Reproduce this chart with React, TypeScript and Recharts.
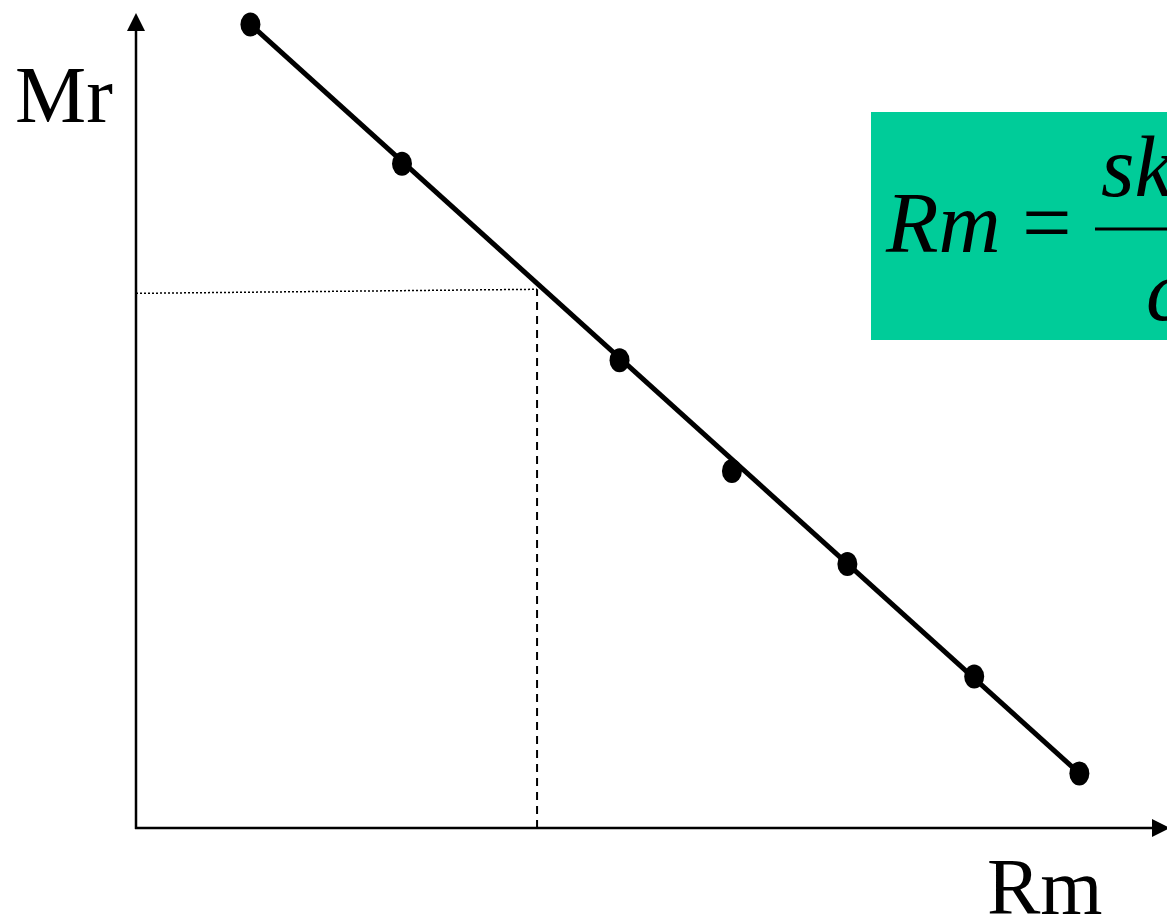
import { ComposedChart, Line, Scatter, XAxis, YAxis, ReferenceLine, Customized } from "recharts";

// measured points (Rm, Mr) in axis units 0..100
const rmValues = [11.1, 25.8, 46.9, 57.8, 69.0, 81.3, 91.5];
const mrValues = [98.6, 81.5, 57.4, 43.8, 32.4, 18.6, 6.7];

// fitted straight line, drawn through the end points
const fitRm = [11.1, 91.5];
const fitMr = [98.6, 6.7];

// reading guide: Rm -> Mr
const guideRm = 38.9;
const guideMrLeft = 65.6;
const guideMrRight = 66.1;

const points = rmValues.map((rm, i) => ({ rm, mr: mrValues[i] }));
const fitLine = fitRm.map((rm, i) => ({ rm, mr: fitMr[i] }));

const serif = "'Liberation Serif', 'DejaVu Serif', serif";

const Dot = (props: any) => {
  const { cx, cy } = props;
  return <ellipse cx={cx} cy={cy} rx={10} ry={12} fill="#000" />;
};

const Decorations = () => (
  <g>
    {/* axes with arrows */}
    <line x1={136} y1={829} x2={136} y2={28} stroke="#000" strokeWidth={2.5} />
    <line x1={135} y1={828} x2={1160} y2={828} stroke="#000" strokeWidth={2.5} />
    <polygon points="136,13 127,31 145,31" fill="#000" />
    <polygon points="1170,828 1152,819 1152,837" fill="#000" />
    {/* axis labels */}
    <text x={15} y={122} fontFamily={serif} fontSize={80} fill="#000">Mr</text>
    <text x={987} y={914} fontFamily={serif} fontSize={80} fill="#000">Rm</text>
    {/* formula box */}
    <rect x={871} y={112} width={300} height={228} fill="#00cc99" />
    <text x={886} y={252} fontFamily={serif} fontSize={86} fontStyle="italic" fill="#000">Rm</text>
    <text x={1022} y={252} fontFamily={serif} fontSize={88} fill="#000">=</text>
    <line x1={1095} y1={229} x2={1180} y2={229} stroke="#000" strokeWidth={3} />
    <text x={1101} y={196} fontFamily={serif} fontSize={86} fontStyle="italic" fill="#000">sk</text>
    <text x={1146} y={320} fontFamily={serif} fontSize={86} fontStyle="italic" fill="#000">c</text>
  </g>
);

export default function App() {
  return (
    <div style={{ position: "absolute", left: 0, top: 0, width: 1167, height: 922, background: "#fff" }}>
      <ComposedChart width={1167} height={922} margin={{ top: 13, right: 0, left: 136, bottom: 94 }}>
        <XAxis type="number" dataKey="rm" domain={[0, 100]} hide />
        <YAxis type="number" dataKey="mr" domain={[0, 100]} hide />
        <Customized component={Decorations} />
        <ReferenceLine
          segment={[{ x: 0, y: guideMrLeft }, { x: guideRm, y: guideMrRight }]}
          stroke="#000"
          strokeWidth={1.5}
          strokeDasharray="2 2"
        />
        <ReferenceLine
          segment={[{ x: guideRm, y: 0 }, { x: guideRm, y: guideMrRight }]}
          stroke="#000"
          strokeWidth={2}
          strokeDasharray="8 6"
        />
        <Line
          data={fitLine}
          dataKey="mr"
          type="linear"
          stroke="#000"
          strokeWidth={5}
          dot={false}
          activeDot={false}
          isAnimationActive={false}
        />
        <Scatter data={points} dataKey="mr" shape={Dot} isAnimationActive={false} />
      </ComposedChart>
    </div>
  );
}
